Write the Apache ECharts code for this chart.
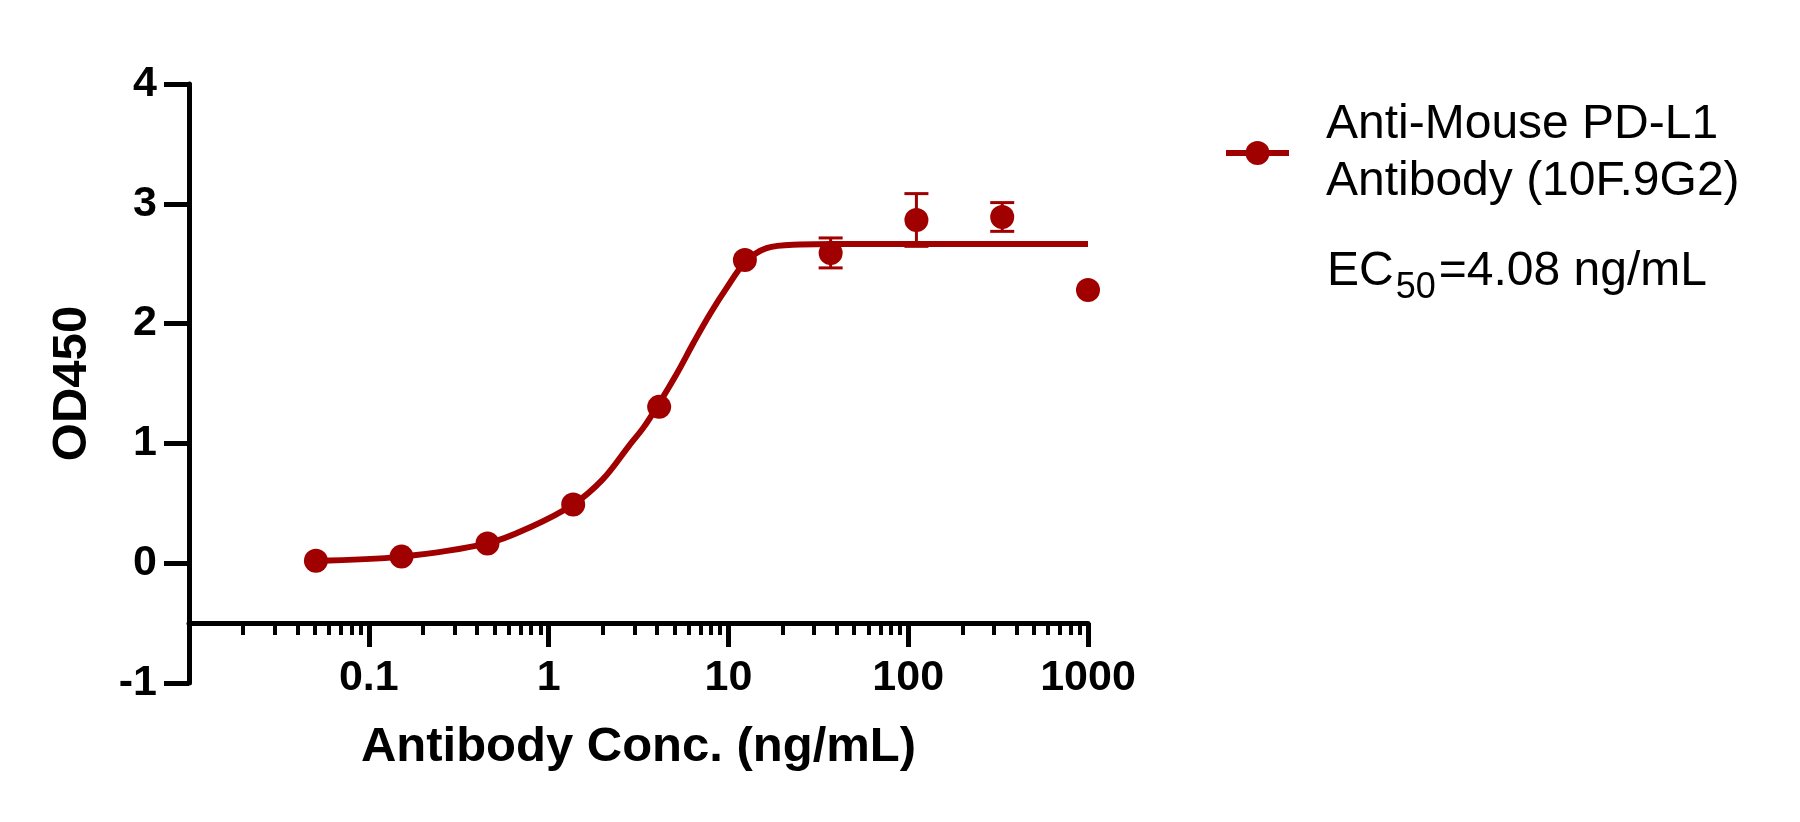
<!DOCTYPE html>
<html>
<head>
<meta charset="utf-8">
<script src="https://cdn.jsdelivr.net/npm/echarts@6/dist/echarts.min.js"></script>
<style>
html,body{margin:0;padding:0;background:#fff;}
#chart{width:1800px;height:822px;}
</style>
</head>
<body>
<div id="chart"></div>
<script>
// ---- data ----
const concentrations = [0.0508, 0.152, 0.457, 1.37, 4.12, 12.35, 37.04, 111.1, 333.3, 1000];
const od450 = [0.02, 0.055, 0.165, 0.49, 1.305, 2.53, 2.59, 2.865, 2.89, 2.28];
const od450Sd = [0, 0, 0, 0, 0, 0, 0.125, 0.22, 0.12, 0];

// fitted curve
const fitConc = [0.0508, 0.152, 0.457, 0.79, 1.37, 2.0, 2.8, 3.4, 4.1, 5.2, 6.4, 7.9, 9.8, 12.35, 16.3, 25, 40, 1000];
const fitOD = [0.02, 0.055, 0.165, 0.30, 0.49, 0.70, 0.98, 1.14, 1.33, 1.59, 1.84, 2.08, 2.30, 2.51, 2.63, 2.66, 2.665, 2.665];

const xMajorTicks = [0.1, 1, 10, 100, 1000];
const xMinorTicks = [0.02,0.03,0.04,0.05,0.06,0.07,0.08,0.09,
  0.2,0.3,0.4,0.5,0.6,0.7,0.8,0.9,
  2,3,4,5,6,7,8,9,
  20,30,40,50,60,70,80,90,
  200,300,400,500,600,700,800,900];

const legendLines = ['Anti-Mouse PD-L1', 'Antibody (10F.9G2)'];
const ec50Text = { main: 'EC', sub: '50', rest: '=4.08 ng/mL' };
const xAxisName = 'Antibody Conc. (ng/mL)';
const yAxisName = 'OD450';

// ---- layout ----
const RED = '#A00000';
const FONT = '"Liberation Sans", Arial, sans-serif';
const grid = { left: 189, right: 712, top: 84, bottom: 139 };
const gridH = 822 - grid.top - grid.bottom;
const yMin = -1, yMax = 4, xAxisCross = -0.5;
const xOffset = -(xAxisCross - yMin) / (yMax - yMin) * gridH;

const points = concentrations.map((c, i) => [c, od450[i]]);
const errBars = concentrations.map((c, i) => [c, od450[i] - od450Sd[i], od450[i] + od450Sd[i]]).filter((d, i) => od450Sd[i] > 0);
const curve = fitConc.map((c, i) => [c, fitOD[i]]);
const seriesName = legendLines.join(' ');

// measure text widths for EC50 annotation
const cvs = document.createElement('canvas').getContext('2d');
cvs.font = '48px ' + FONT;
const wMain = cvs.measureText(ec50Text.main).width;
cvs.font = '36px ' + FONT;
const wSub = cvs.measureText(ec50Text.sub).width;
const ecX = 1327, ecBase = 289;

const chart = echarts.init(document.getElementById('chart'), null, { renderer: 'canvas' });
const tickLabelStyle = { color: '#000', fontFamily: FONT, fontWeight: 'bold', fontSize: 43 };

chart.setOption({
  animation: false,
  backgroundColor: '#fff',
  grid: grid,
  legend: {
    data: [seriesName],
    left: 1223, top: 96, padding: 0,
    selectedMode: false,
    itemWidth: 63, itemHeight: 30,
    lineStyle: { width: 6, color: RED },
    formatter: () => legendLines.join('\n'),
    textStyle: { color: '#000', fontFamily: FONT, fontSize: 48, lineHeight: 57, padding: [0, 0, 0, 32] }
  },
  xAxis: [{
    type: 'log', logBase: 10, min: 0.01, max: 1000,
    position: 'bottom', offset: xOffset,
    name: xAxisName, nameLocation: 'middle', nameGap: 100,
    nameTextStyle: { color: '#000', fontFamily: FONT, fontWeight: 'bold', fontSize: 49 },
    axisLine: { show: true, onZero: false, lineStyle: { color: '#000', width: 5 } },
    axisTick: { show: true, length: 24, lineStyle: { color: '#000', width: 5 }, customValues: xMajorTicks },
    axisLabel: Object.assign({ margin: 34, customValues: xMajorTicks, formatter: v => String(v) }, tickLabelStyle),
    splitLine: { show: false }, minorTick: { show: false }
  }, {
    type: 'log', logBase: 10, min: 0.01, max: 1000,
    position: 'bottom', offset: xOffset,
    axisLine: { show: false, onZero: false },
    axisTick: { show: true, length: 12, lineStyle: { color: '#000', width: 4 }, customValues: xMinorTicks },
    axisLabel: { show: false },
    splitLine: { show: false }
  }],
  yAxis: {
    type: 'value', min: yMin, max: yMax, interval: 1,
    name: yAxisName, nameLocation: 'middle', nameGap: 92, nameRotate: 90,
    nameTextStyle: { color: '#000', fontFamily: FONT, fontWeight: 'bold', fontSize: 49 },
    axisLine: { show: true, onZero: false, lineStyle: { color: '#000', width: 5 } },
    axisTick: { show: true, length: 25, lineStyle: { color: '#000', width: 5 } },
    axisLabel: Object.assign({ margin: 32 }, tickLabelStyle),
    splitLine: { show: false }
  },
  graphic: [
    { type: 'text', left: ecX, top: ecBase - 0.35 * 48 - 24, style: { text: ec50Text.main, fill: '#000', font: '48px ' + FONT } },
    { type: 'text', left: ecX + wMain + 2, top: ecBase + 12 - 0.35 * 36 - 18, style: { text: ec50Text.sub, fill: '#000', font: '36px ' + FONT } },
    { type: 'text', left: ecX + wMain + wSub + 5, top: ecBase - 0.35 * 48 - 24, style: { text: ec50Text.rest, fill: '#000', font: '48px ' + FONT } }
  ],
  series: [
    {
      name: seriesName, type: 'line', data: curve,
      smooth: 0.35,
      symbol: 'circle', symbolSize: 24, showSymbol: false,
      lineStyle: { color: RED, width: 6 }, itemStyle: { color: RED },
      z: 2, silent: true
    },
    {
      type: 'custom', data: errBars, z: 3, silent: true,
      renderItem: function (params, api) {
        const x = api.value(0);
        const lo = api.coord([x, api.value(1)]);
        const hi = api.coord([x, api.value(2)]);
        const hw = 12;
        const st = { stroke: RED, lineWidth: 3 };
        return { type: 'group', children: [
          { type: 'line', shape: { x1: lo[0], y1: lo[1], x2: hi[0], y2: hi[1] }, style: st },
          { type: 'line', shape: { x1: hi[0] - hw, y1: hi[1], x2: hi[0] + hw, y2: hi[1] }, style: st },
          { type: 'line', shape: { x1: lo[0] - hw, y1: lo[1], x2: lo[0] + hw, y2: lo[1] }, style: st }
        ]};
      }
    },
    {
      type: 'scatter', data: points, symbol: 'circle', symbolSize: 24,
      itemStyle: { color: RED, opacity: 1 }, z: 4, silent: true
    }
  ]
});
</script>
</body>
</html>
